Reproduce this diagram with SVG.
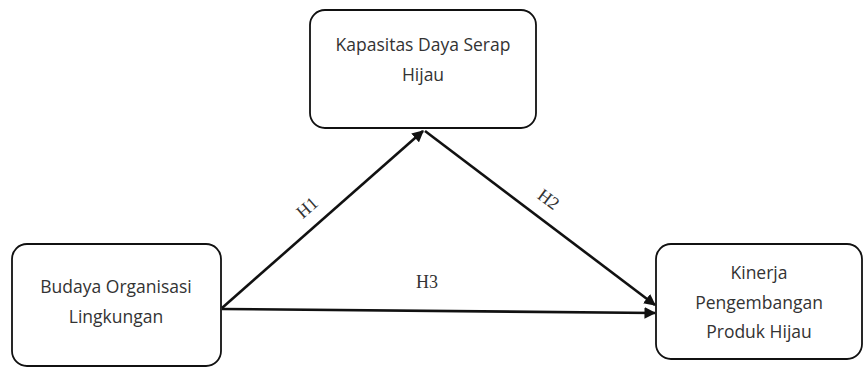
<svg xmlns="http://www.w3.org/2000/svg" width="864" height="368" viewBox="0 0 864 368">
<style>
.box{fill:#fff;stroke:#111;stroke-width:1.8}
.t{font-family:"Open Sans","Noto Sans",sans-serif;font-size:17.5px;fill:#333;text-anchor:middle}
.e{stroke:#111;stroke-width:2.6;fill:none;marker-end:url(#ah)}
.l{font-family:"Liberation Serif",serif;font-size:18px;fill:#333;text-anchor:middle}
</style>
<defs>
<marker id="ah" viewBox="0 0 10 10" refX="9" refY="5" markerWidth="4.5" markerHeight="4.5" orient="auto" markerUnits="strokeWidth">
<path d="M0,0 L10,5 L0,10 z" fill="#111"/>
</marker>
</defs>
<rect width="864" height="368" fill="#fff"/>
<g id="edges">
<line class="e" x1="222" y1="308" x2="423" y2="131"/>
<line class="e" x1="425" y1="131" x2="655" y2="305"/>
<line class="e" x1="222" y1="309" x2="655" y2="313"/>
<text class="l" transform="translate(311,212) rotate(-41)">H1</text>
<text class="l" transform="translate(545,204) rotate(37)">H2</text>
<text class="l" x="427" y="288">H3</text>
</g>
<g id="n1">
<rect class="box" x="310" y="10" width="226" height="118" rx="15"/>
<text class="t" x="423" y="51">Kapasitas Daya Serap</text>
<text class="t" x="423" y="81">Hijau</text>
</g>
<g id="n2">
<rect class="box" x="12" y="244" width="209" height="122" rx="15"/>
<text class="t" x="116" y="293">Budaya Organisasi</text>
<text class="t" x="116" y="323">Lingkungan</text>
</g>
<g id="n3">
<rect class="box" x="656" y="244" width="206" height="115" rx="15"/>
<text class="t" x="759" y="279">Kinerja</text>
<text class="t" x="759" y="309">Pengembangan</text>
<text class="t" x="759" y="338">Produk Hijau</text>
</g>
</svg>
